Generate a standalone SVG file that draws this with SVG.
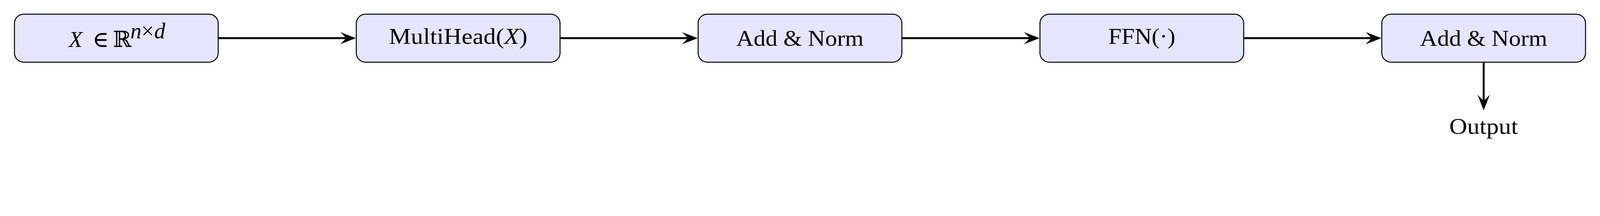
<svg xmlns="http://www.w3.org/2000/svg" width="5544" height="552" viewBox="0 0 5544 552" style="max-width:100vw;height:auto">
<style>
.box{fill:#E5E5FF;stroke:#000;stroke-width:3.4}
.lbl{font-family:"Liberation Serif","DejaVu Serif",serif;font-size:77px;fill:#000}
.it{font-style:italic}
.edge{stroke:#000;stroke-width:6.8;fill:none}
</style>
<defs>
<marker id="arr" markerUnits="userSpaceOnUse" viewBox="0 -25 60 50" markerWidth="60" markerHeight="50" refX="26" refY="0" orient="auto">
<path d="M56,0 L2,-21 Q18,-5 22,0 Q18,5 2,21 Z" fill="#000"/>
</marker>
</defs>
<rect width="5544" height="552" fill="#fff"/>
<g id="connectors">
<line class="edge" x1="756" y1="132" x2="1203" y2="132" marker-end="url(#arr)"/>
<line class="edge" x1="1940.5" y1="132" x2="2387.5" y2="132" marker-end="url(#arr)"/>
<line class="edge" x1="3125" y1="132" x2="3572" y2="132" marker-end="url(#arr)"/>
<line class="edge" x1="4309.5" y1="132" x2="4756.5" y2="132" marker-end="url(#arr)"/>
<line class="edge" x1="5141" y1="216" x2="5141" y2="352" marker-end="url(#arr)"/>
</g>
<g id="node-input">
<rect class="box" x="50" y="49" width="706" height="166" rx="32"/>
<text class="lbl it" x="262" y="162" text-anchor="middle">X</text>
<text class="lbl" x="349" y="162" text-anchor="middle" font-size="84">∈</text>
<text class="lbl" x="423" y="162" text-anchor="middle" font-family="DejaVu Serif" font-size="66">ℝ</text>
<text class="lbl it" x="471" y="132" text-anchor="middle" font-size="54">n</text>
<text class="lbl" x="511.5" y="132" text-anchor="middle" font-size="54">×</text>
<text class="lbl it" x="553.5" y="132" text-anchor="middle" font-size="54">d</text>
</g>
<g id="node-multihead">
<rect class="box" x="1234.5" y="49" width="706" height="166" rx="32"/>
<text class="lbl" x="1347.5" y="152" textLength="480" lengthAdjust="spacingAndGlyphs">MultiHead(<tspan class="it">X</tspan>)</text>
</g>
<g id="node-addnorm1">
<rect class="box" x="2419" y="49" width="706" height="166" rx="32"/>
<text class="lbl" x="2551.5" y="158" textLength="441" lengthAdjust="spacingAndGlyphs">Add &amp; Norm</text>
</g>
<g id="node-ffn">
<rect class="box" x="3603.5" y="49" width="706" height="166" rx="32"/>
<text class="lbl" x="3840.5" y="152" textLength="232" lengthAdjust="spacingAndGlyphs">FFN(·)</text>
</g>
<g id="node-addnorm2">
<rect class="box" x="4788" y="49" width="706" height="166" rx="32"/>
<text class="lbl" x="4920.5" y="158" textLength="441" lengthAdjust="spacingAndGlyphs">Add &amp; Norm</text>
</g>
<g id="node-output">
<text class="lbl" x="5022" y="463" textLength="238" lengthAdjust="spacingAndGlyphs">Output</text>
</g>
</svg>
